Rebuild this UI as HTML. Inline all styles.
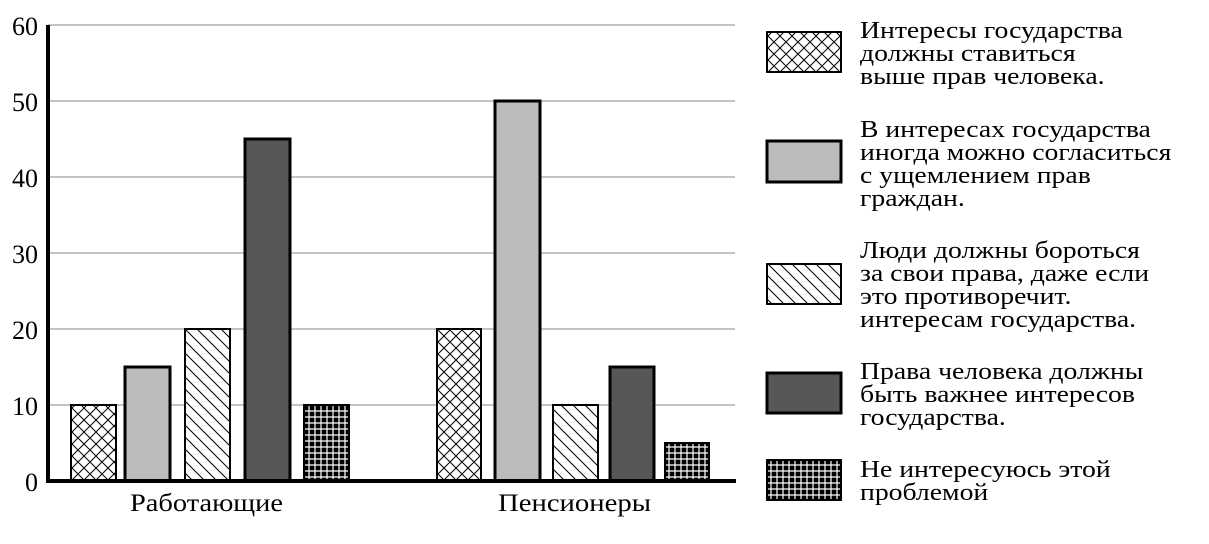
<!DOCTYPE html>
<html><head><meta charset="utf-8"><style>
body{margin:0;background:#fff;}
svg text{font-family:"Liberation Serif",serif;fill:#000;}
</style></head><body>
<svg width="1209" height="539" xmlns="http://www.w3.org/2000/svg">
<defs>
<pattern id="cross" width="12" height="12" patternUnits="userSpaceOnUse">
<rect width="12" height="12" fill="#fff"/>
<path d="M0,0L12,12M12,0L0,12" stroke="#000" stroke-width="1"/>
</pattern>
<pattern id="diag" width="12" height="12" patternUnits="userSpaceOnUse">
<rect width="12" height="12" fill="#fff"/>
<path d="M0,0L12,12M-6,6L6,18M6,-6L18,6" stroke="#000" stroke-width="1"/>
</pattern>
<pattern id="grid" width="6" height="6" patternUnits="userSpaceOnUse">
<rect width="6" height="6" fill="#000"/>
<path d="M0,3H6M3,0V6" stroke="#fff" stroke-width="1.2"/>
</pattern>
</defs>
<g stroke="#888" stroke-width="1">
<line x1="48" y1="25" x2="735" y2="25"/>
<line x1="48" y1="101" x2="735" y2="101"/>
<line x1="48" y1="177" x2="735" y2="177"/>
<line x1="48" y1="253" x2="735" y2="253"/>
<line x1="48" y1="329" x2="735" y2="329"/>
<line x1="48" y1="405" x2="735" y2="405"/>
</g>
<g font-size="26" text-anchor="end">
<text x="38" y="35">60</text><text x="38" y="111">50</text><text x="38" y="187">40</text>
<text x="38" y="263">30</text><text x="38" y="339">20</text><text x="38" y="415">10</text><text x="38" y="491">0</text>
</g>
<g stroke="#000">
<rect x="71" y="405" width="45" height="76" fill="url(#cross)" stroke-width="2"/>
<rect x="125" y="367" width="45" height="114" fill="#bbb" stroke-width="3"/>
<rect x="185" y="329" width="45" height="152" fill="url(#diag)" stroke-width="2"/>
<rect x="245" y="139" width="45" height="342" fill="#575757" stroke-width="3"/>
<rect x="304" y="405" width="45" height="76" fill="url(#grid)" stroke-width="2"/>
<rect x="437" y="329" width="44" height="152" fill="url(#cross)" stroke-width="2"/>
<rect x="495" y="101" width="45" height="380" fill="#bbb" stroke-width="3"/>
<rect x="553" y="405" width="45" height="76" fill="url(#diag)" stroke-width="2"/>
<rect x="610" y="367" width="44" height="114" fill="#575757" stroke-width="3"/>
<rect x="665" y="443" width="44" height="38" fill="url(#grid)" stroke-width="2"/>
</g>
<line x1="48" y1="25" x2="48" y2="482" stroke="#000" stroke-width="4"/>
<line x1="46" y1="481" x2="736" y2="481" stroke="#000" stroke-width="4"/>
<g font-size="25">
<text x="130" y="511" textLength="153" lengthAdjust="spacingAndGlyphs">Работающие</text>
<text x="498" y="511" textLength="153" lengthAdjust="spacingAndGlyphs">Пенсионеры</text>
</g>
<g stroke="#000">
<rect x="767" y="32" width="74" height="40" fill="url(#cross)" stroke-width="2"/>
<rect x="767" y="141" width="74" height="41" fill="#bbb" stroke-width="3"/>
<rect x="767" y="264" width="74" height="40" fill="url(#diag)" stroke-width="2"/>
<rect x="767" y="373" width="74" height="40" fill="#575757" stroke-width="3"/>
<rect x="767" y="460" width="74" height="40" fill="url(#grid)" stroke-width="2"/>
</g>
<g font-size="24" transform="translate(860,0) scale(1.155,1)">
<text x="0" y="38">Интересы государства</text>
<text x="0" y="61">должны ставиться</text>
<text x="0" y="84">выше прав человека.</text>
<text x="0" y="137">В интересах государства</text>
<text x="0" y="160">иногда можно согласиться</text>
<text x="0" y="183">с ущемлением прав</text>
<text x="0" y="206">граждан.</text>
<text x="0" y="258">Люди должны бороться</text>
<text x="0" y="281">за свои права, даже если</text>
<text x="0" y="304">это противоречит.</text>
<text x="0" y="327">интересам государства.</text>
<text x="0" y="379">Права человека должны</text>
<text x="0" y="402">быть важнее интересов</text>
<text x="0" y="425">государства.</text>
<text x="0" y="477">Не интересуюсь этой</text>
<text x="0" y="500">проблемой</text>
</g>
</svg>
</body></html>
